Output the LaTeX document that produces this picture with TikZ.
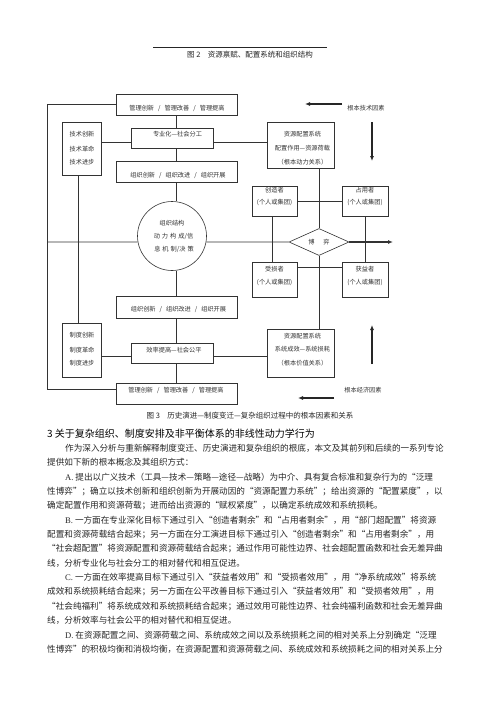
\documentclass[tikz,border=0pt]{standalone}
\usepackage{fontspec}
\setmainfont{Noto Sans CJK SC}
\newfontfamily\latf{Liberation Serif}
\usetikzlibrary{arrows.meta,shapes.geometric}
\XeTeXlinebreaklocale "zh"
\XeTeXlinebreakskip=0pt plus 2pt minus 0.3pt
\newcommand\dfont{\fontsize{6.2}{7}\selectfont}
\newcommand\bodyf{\fontsize{8.6}{14.4}\selectfont}
\newcommand\capf{\fontsize{7.5}{9}\selectfont}
\newcommand\JJ{\parfillskip=0pt\relax\noindent}
\newcommand\slsep{\hspace{4pt}/\hspace{4pt}}
\newcommand\gp{\hspace{2pt}}
\begin{document}
\begin{tikzpicture}[x=1pt,y=-1pt,
  box/.style={draw=black!80, line width=0.6pt, rectangle, inner sep=0, fill=white},
  txt/.style={inner sep=0, font=\dfont, text=black!80},
  ln/.style={draw=black!80, line width=0.6pt},
  sidearrow/.style={draw=black!85, line width=1.1pt, -{Latex[length=5pt,width=4pt]}},
  jl/.style={anchor=west, inner sep=0, text width=#1, align=justify, font=\bodyf, text=black!85},
  rl/.style={anchor=west, inner sep=0, font=\bodyf, text=black!85},
  capn/.style={inner sep=0, font=\capf, text=black!85},
]
\fill[white] (0,0) rectangle (500,707);
\useasboundingbox (0,0) rectangle (500,707);

% side arrows (free-standing)
\coordinate (tarrA) at (342,104);
\coordinate (tarrB) at (305,104);
\coordinate (darrA) at (372,122);
\coordinate (darrB) at (372,161);
\coordinate (uarrA) at (372,364);
\coordinate (uarrB) at (372,325);
\coordinate (earrA) at (334,398);
\coordinate (earrB) at (298,398);
\draw[sidearrow] (tarrA) -- (tarrB);
\draw[sidearrow] (darrA) -- (darrB);
\draw[sidearrow] (uarrA) -- (uarrB);
\draw[sidearrow] (earrA) -- (earrB);

% top rule and caption
\coordinate (rule1) at (153,47);
\coordinate (rule2) at (327,47);
\draw[line width=0.9pt, black!85] (rule1) -- (rule2);
\node[capn] (cap2) at (250,55) {图 2\hspace{1em}资源禀赋、配置系统和组织结构};

% boxes
\node[box, minimum width=121pt, minimum height=21pt] (top) at (176.5,104.5) {};
\node[box, minimum width=39pt, minimum height=53pt] (tech) at (81.5,148.5) {};
\node[box, minimum width=82pt, minimum height=20pt] (spec) at (172,138) {};
\node[box, minimum width=121pt, minimum height=21pt] (org1) at (176.5,171.5) {};
\node[box, circle, minimum size=69pt] (circ) at (172,236) {};
\node[box, minimum width=121pt, minimum height=22pt] (org2) at (176.5,307) {};
\node[box, minimum width=39pt, minimum height=54pt] (inst) at (81.5,350) {};
\node[box, minimum width=82pt, minimum height=20pt] (eff) at (172,353) {};
\node[box, minimum width=121pt, minimum height=21pt] (bot) at (176.5,393.5) {};
\node[box, minimum width=67pt, minimum height=46pt] (res1) at (300.5,145) {};
\node[box, minimum width=45pt, minimum height=30pt] (cre) at (274.5,201) {};
\node[box, minimum width=46pt, minimum height=30pt] (occ) at (365,201) {};
\node[box, diamond, minimum width=60pt, minimum height=27pt] (dia) at (319,242) {};
\node[box, minimum width=45pt, minimum height=35pt] (los) at (274.5,279.5) {};
\node[box, minimum width=46pt, minimum height=35pt] (gain) at (365,279.5) {};
\node[box, minimum width=67pt, minimum height=48pt] (res2) at (300.5,353) {};

% helper coordinates
\coordinate (o1) at (47,104.5);
\coordinate (o2) at (47,389);
\coordinate (ol) at (47,242);
\coordinate (c78) at (78,0);
\coordinate (c176) at (176,0);
\coordinate (c272) at (272,0);
\coordinate (r142) at (0,142);
\coordinate (r356) at (0,356);
\coordinate (r267) at (0,267);

% connectors
\draw[ln] (top.west) -- (o1) -- (o2) -- (bot.west |- o2);
\draw[ln] (ol) -- (circ.190);
\draw[ln] (circ.350) -- (dia.west);
\draw[ln] (tech.south -| c78) -- (inst.north -| c78);
\draw[ln] (tech.east |- r142) -- (spec.west |- r142);
\draw[ln] (spec.east |- r142) -- (res1.west |- r142);
\draw[ln] (inst.east |- r356) -- (eff.west |- r356);
\draw[ln] (eff.east |- r356) -- (res2.west |- r356);
\draw[ln] (top.south -| c176) -- (spec.north -| c176);
\draw[ln] (spec.south -| c176) -- (org1.north -| c176);
\draw[ln] (org1.south -| c176) -- (circ.north -| c176);
\draw[ln] (circ.south -| c176) -- (org2.north -| c176);
\draw[ln] (org2.south -| c176) -- (eff.north -| c176);
\draw[ln] (eff.south -| c176) -- (bot.north -| c176);
\draw[ln] (res1.south -| dia.north) -- (dia.north);
\draw[ln] (dia.south) -- (res2.north -| dia.south);
\draw[ln] (cre.east) -- (occ.west);
\draw[ln] (los.east |- r267) -- (gain.west |- r267);
\draw[ln] (cre.south -| c272) -- (los.north -| c272);
\draw[ln] (occ.south) -- (gain.north);
\coordinate (dout) at (393,242);
\draw[ln, line width=1.3pt, -{Latex[length=5pt,width=4pt]}] (dia.east) -- (dout);

\node[txt] (lt) at (366,108) {根本技术因素};
\node[txt] (le) at (363,390) {根本经济因素};

% box texts
\node[txt] (topT) at (177,108) {管理创新\slsep 管理改善\slsep 管理提高};
\node[txt] (techT1) at (82,134) {技术创新};
\node[txt] (techT2) at (82,149) {技术革命};
\node[txt] (techT3) at (82,162) {技术进步};
\node[txt] (specT) at (177.5,134) {专业化—社会分工};
\node[txt] (org1T) at (178,175) {组织创新\slsep 组织改进\slsep 组织开展};
\node[txt] (circT1) at (172,223) {组织结构};
\node[txt] (circT2) at (173.5,236) {动\gp 力\gp 构\gp 成/信};
\node[txt] (circT3) at (174,249) {息\gp 机\gp 制/决\gp 策};
\node[txt] (org2T) at (178.5,309) {组织创新\slsep 组织改进\slsep 组织开展};
\node[txt] (instT1) at (82,335) {制度创新};
\node[txt] (instT2) at (82,350) {制度革命};
\node[txt] (instT3) at (82,363) {制度进步};
\node[txt] (effT) at (174,350) {效率提高—社会公平};
\node[txt] (botT) at (176,390) {管理创新\slsep 管理改善\slsep 管理提高};
\node[txt] (res1T1) at (302.5,134) {资源配置系统};
\node[txt] (res1T2) at (302.5,148) {配置作用—资源荷载};
\node[txt] (res1T3) at (302.5,162) {（根本动力关系）};
\node[txt] (creT1) at (274.5,190) {创造者};
\node[txt] (creT2) at (274.5,202) {(个人或集团)};
\node[txt] (occT1) at (365,190) {占用者};
\node[txt] (occT2) at (365,202) {(个人或集团)};
\node[txt] (diaT) at (319,242) {博\hspace{9pt}弈};
\node[txt] (losT1) at (274.5,269) {受损者};
\node[txt] (losT2) at (274.5,282) {(个人或集团)};
\node[txt] (gainT1) at (365,269) {获益者};
\node[txt] (gainT2) at (365,282) {(个人或集团)};
\node[txt] (res2T1) at (302.5,336) {资源配置系统};
\node[txt] (res2T2) at (302.5,349) {系统成效—系统损耗};
\node[txt] (res2T3) at (302.5,363) {（根本价值关系）};

% caption 3 and heading
\node[capn] (cap3) at (250,416) {图 3\hspace{1em}历史演进—制度变迁—复杂组织过程中的根本因素和关系};
\node[anchor=west, inner sep=0, font=\fontsize{10}{12}\selectfont, text=black] (hd) at (47,434) {3 关于复杂组织、制度安排及非平衡体系的非线性动力学行为};

% body text
\node[jl=387pt] (p1) at (65,448) {\JJ 作为深入分析与重新解释制度变迁、历史演进和复杂组织的根底，本文及其前列和后续的一系列专论};
\node[rl] (p2) at (47,462.4) {提供如下新的根本概念及其组织方式：};
\node[jl=387pt] (p3) at (65,476.8) {\JJ{\latf A.} 提出以广义技术（工具—技术—策略—途径—战略）为中介、具有复合标准和复杂行为的“泛理};
\node[jl=405pt] (p4) at (47,491.2) {\JJ 性博弈”；确立以技术创新和组织创新为开展动因的“资源配置力系统”；给出资源的“配置紧度”，以};
\node[rl] (p5) at (47,505.6) {确定配置作用和资源荷载；进而给出资源的“赋权紧度”，以确定系统成效和系统损耗。};
\node[jl=387pt] (p6) at (65,520) {\JJ{\latf B.} 一方面在专业深化目标下通过引入“创造者剩余”和“占用者剩余”，用“部门超配置”将资源};
\node[jl=405pt] (p7) at (47,534.4) {\JJ 配置和资源荷载结合起来；另一方面在分工演进目标下通过引入“创造者剩余”和“占用者剩余”，用};
\node[jl=405pt] (p8) at (47,548.8) {\JJ “社会超配置”将资源配置和资源荷载结合起来；通过作用可能性边界、社会超配置函数和社会无差异曲};
\node[rl] (p9) at (47,563.2) {线，分析专业化与社会分工的相对替代和相互促进。};
\node[jl=387pt] (p10) at (65,577.6) {\JJ{\latf C.} 一方面在效率提高目标下通过引入“获益者效用”和“受损者效用”，用“净系统成效”将系统};
\node[jl=405pt] (p11) at (47,592) {\JJ 成效和系统损耗结合起来；另一方面在公平改善目标下通过引入“获益者效用”和“受损者效用”，用};
\node[jl=405pt] (p12) at (47,606.4) {\JJ “社会纯福利”将系统成效和系统损耗结合起来；通过效用可能性边界、社会纯福利函数和社会无差异曲};
\node[rl] (p13) at (47,620.8) {线，分析效率与社会公平的相对替代和相互促进。};
\node[jl=387pt] (p14) at (65,635.2) {\JJ{\latf D.} 在资源配置之间、资源荷载之间、系统成效之间以及系统损耗之间的相对关系上分别确定“泛理};
\node[jl=405pt] (p15) at (47,649.6) {\JJ 性博弈”的积极均衡和消极均衡，在资源配置和资源荷载之间、系统成效和系统损耗之间的相对关系上分};
\end{tikzpicture}
\end{document}
